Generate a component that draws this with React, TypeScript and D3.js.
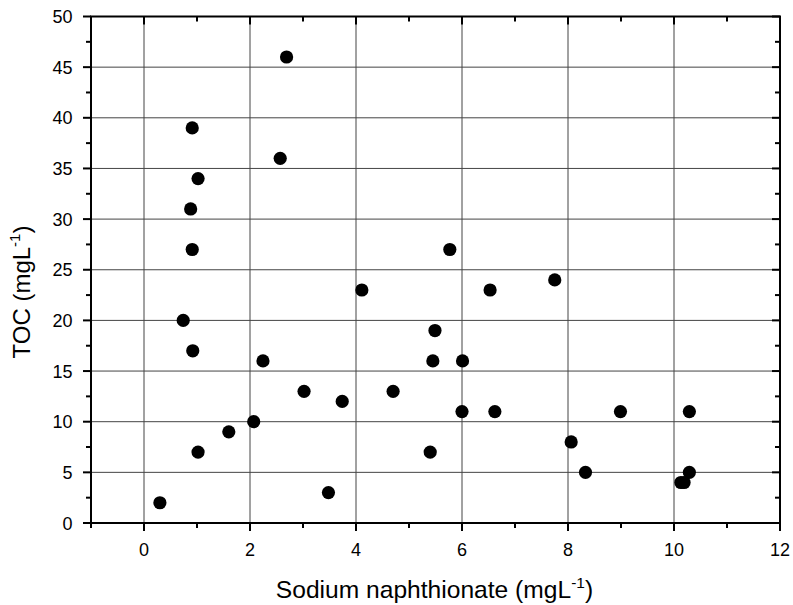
import React from "react";
import * as d3 from "d3";

const naphthionate = [0.3, 0.74, 0.91, 0.88, 0.91, 0.92, 1.02, 1.02, 1.6, 2.07, 2.245, 2.57, 2.69, 3.02, 3.48, 3.74, 4.11, 4.7, 5.4, 5.45, 5.49, 5.77, 6.01, 6.0, 6.53, 6.62, 7.75, 8.06, 8.33, 8.99, 10.13, 10.19, 10.29, 10.29];
const toc = [2, 20, 39, 31, 27, 17, 34, 7, 9, 10, 16, 36, 46, 13, 3, 12, 23, 13, 7, 16, 19, 27, 16, 11, 23, 11, 24, 8, 5, 11, 4, 4, 5, 11];

const xTicks = [0, 2, 4, 6, 8, 10, 12];
const xMinorTicks = [-1, 1, 3, 5, 7, 9, 11];
const yTicks = [0, 5, 10, 15, 20, 25, 30, 35, 40, 45, 50];
const yMinorTicks = [2.5, 7.5, 12.5, 17.5, 22.5, 27.5, 32.5, 37.5, 42.5, 47.5];
const xTitle = "Sodium naphthionate (mgL";
const yTitle = "TOC (mgL";

const W = 793;
const H = 605;
const L = 91;
const R = 780;
const T = 16.5;
const B = 523;
const font = "'Liberation Sans', Arial, Helvetica, sans-serif";

export default function App() {
  const x = d3.scaleLinear().domain([-1, 12]).range([L, R]);
  const y = d3.scaleLinear().domain([0, 50]).range([B, T]);
  const pts = d3.zip(naphthionate, toc) as [number, number][];
  const major = 8;
  const minor = 5;
  const yMid = 292;
  return (
    <svg width={W} height={H} style={{ position: "absolute", left: 0, top: 0, background: "#fff" }}>
      <rect x={0} y={0} width={W} height={H} fill="#fff" />
      <g stroke="#444" strokeWidth={1}>
        {xTicks.filter((t) => t > -1 && t < 12).map((t) => (
          <line key={"gx" + t} x1={x(t)} x2={x(t)} y1={T} y2={B} />
        ))}
        {yTicks.filter((t) => t > 0 && t < 50).map((t) => (
          <line key={"gy" + t} x1={L} x2={R} y1={y(t)} y2={y(t)} />
        ))}
      </g>
      <g fill="#000">
        {pts.map(([a, b], i) => (
          <circle key={i} cx={x(a)} cy={y(b)} r={6.6} />
        ))}
      </g>
      <g stroke="#000" strokeWidth={2}>
        {xTicks.map((t) => (
          <g key={"xt" + t}>
            <line x1={x(t)} x2={x(t)} y1={B} y2={B + major} />
            <line x1={x(t)} x2={x(t)} y1={T} y2={T + major} />
          </g>
        ))}
        {xMinorTicks.map((t) => (
          <g key={"xm" + t}>
            <line x1={x(t)} x2={x(t)} y1={B} y2={B + minor} />
            <line x1={x(t)} x2={x(t)} y1={T} y2={T + minor} />
          </g>
        ))}
        {yTicks.map((t) => (
          <g key={"yt" + t}>
            <line x1={L - major} x2={L} y1={y(t)} y2={y(t)} />
            <line x1={R - major} x2={R} y1={y(t)} y2={y(t)} />
          </g>
        ))}
        {yMinorTicks.map((t) => (
          <g key={"ym" + t}>
            <line x1={L - minor} x2={L} y1={y(t)} y2={y(t)} />
            <line x1={R - minor} x2={R} y1={y(t)} y2={y(t)} />
          </g>
        ))}
      </g>
      <rect x={L} y={T} width={R - L} height={B - T} fill="none" stroke="#000" strokeWidth={2} />
      <g fontFamily={font} fontSize={18} fill="#000">
        {xTicks.map((t) => (
          <text key={"xl" + t} x={x(t)} y={556} textAnchor="middle">{t}</text>
        ))}
        {yTicks.map((t) => (
          <text key={"yl" + t} x={72.5} y={y(t) + 6.5} textAnchor="end">{t}</text>
        ))}
      </g>
      <text x={(L + R) / 2 - 1} y={598} textAnchor="middle" fontFamily={font} fontSize={24.6} fill="#000">
        {xTitle}
        <tspan fontSize={15.5} dy={-10}>-1</tspan>
        <tspan dy={10}>)</tspan>
      </text>
      <text
        transform={`translate(30,${yMid}) rotate(-90)`}
        textAnchor="middle"
        fontFamily={font}
        fontSize={24}
        fill="#000"
      >
        {yTitle}
        <tspan fontSize={15} dy={-10}>-1</tspan>
        <tspan dy={10}>)</tspan>
      </text>
    </svg>
  );
}
